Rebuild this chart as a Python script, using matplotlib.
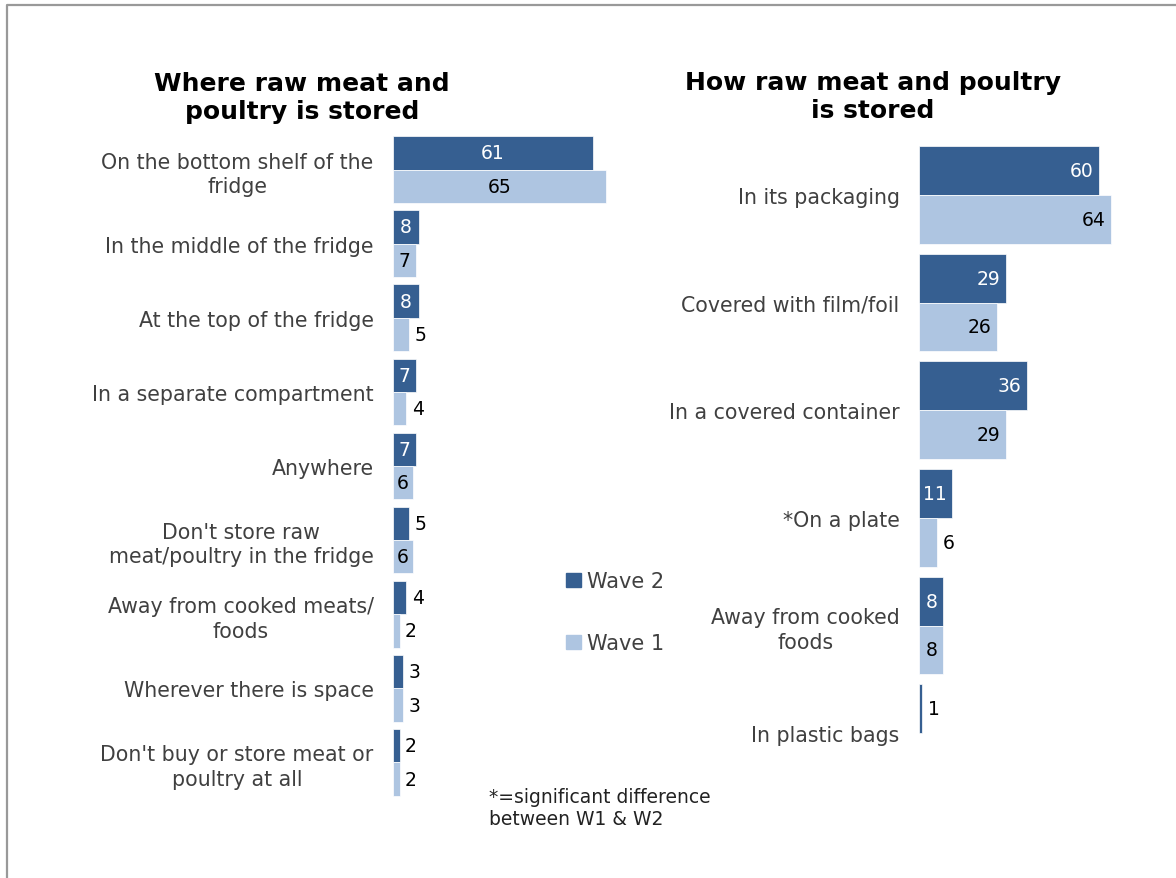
import numpy as np
import matplotlib.pyplot as plt
from matplotlib.patches import Patch
from matplotlib.lines import Line2D

# where raw meat is kept in the fridge (%)
where_cats = ["On the bottom shelf of the\nfridge",
              "In the middle of the fridge",
              "At the top of the fridge",
              "In a separate compartment",
              "Anywhere",
              "Don't store raw\nmeat/poultry in the fridge",
              "Away from cooked meats/\nfoods",
              "Wherever there is space",
              "Don't buy or store meat or\npoultry at all"]
where_w2 = [61, 8, 8, 7, 7, 5, 4, 3, 2]
where_w1 = [65, 7, 5, 4, 6, 6, 2, 3, 2]

# how raw meat is kept (%)
how_cats = ["In its packaging",
            "Covered with film/foil",
            "In a covered container",
            "*On a plate",
            "Away from cooked\nfoods",
            "In plastic bags"]
how_w2 = [60, 29, 36, 11, 8, 1]
how_w1 = [64, 26, 29, 6, 8, 0]

DARK = "#365f91"
LIGHT = "#aec5e1"
GREY = "#404040"

W, H = 1176, 879
fig = plt.figure(figsize=(W / 100, H / 100), dpi=100)


def px_axes(x0, y_top, x1, y_bot):
    return fig.add_axes([x0 / W, 1 - y_bot / H, (x1 - x0) / W, (y_bot - y_top) / H])


def draw_panel(ax, cats, w2, w1, bh, inside_min, mode):
    y = np.arange(len(cats))
    b2 = ax.barh(y - bh / 2, w2, height=bh, color=DARK, edgecolor="white", linewidth=0.5)
    b1 = ax.barh(y + bh / 2, w1, height=bh, color=LIGHT, edgecolor="white", linewidth=0.5)
    ax.set_ylim(len(cats) - 0.5, -0.5)
    ax.set_yticks(y)
    ax.set_yticklabels(cats, fontsize=14.8, color=GREY, multialignment="center", linespacing=1.27)
    ax.tick_params(axis="y", length=0, pad=14)
    ax.set_xticks([])
    for s in ax.spines.values():
        s.set_visible(False)

    for bars, vals, dark in ((b2, w2, True), (b1, w1, False)):
        for bar, v in zip(bars, vals):
            if v == 0:
                continue
            yc = bar.get_y() + bar.get_height() / 2
            if v >= inside_min:
                col = "white" if dark and v >= 7 else "black"
                if mode == "center":
                    ax.annotate(str(v), (v / 2, yc), ha="center", va="center",
                                fontsize=13.5, color=col)
                else:
                    ax.annotate(str(v), (v, yc), xytext=(-4, 0), textcoords="offset points",
                                ha="right", va="center", fontsize=13.5, color=col)
            else:
                ax.annotate(str(v), (v, yc), xytext=(4, 0), textcoords="offset points",
                            ha="left", va="center", fontsize=13.5, color="black")


ax1 = px_axes(393, 133.5, 721, 800.5)
ax1.set_xlim(0, 100)
draw_panel(ax1, where_cats, where_w2, where_w1, 0.45, 6, "center")

ax2 = px_axes(919, 142, 1174, 788)
ax2.set_xlim(0, 85)
draw_panel(ax2, how_cats, how_w2, how_w1, 0.455, 8, "end")

fig.text(302 / W, 1 - 98 / H, "Where raw meat and\npoultry is stored", ha="center", va="center",
         fontsize=18, fontweight="bold", color="black", linespacing=1.2)
fig.text(873 / W, 1 - 97 / H, "How raw meat and poultry\nis stored", ha="center", va="center",
         fontsize=18, fontweight="bold", color="black", linespacing=1.2)

handles = [Patch(color=DARK, label="Wave 2"), Patch(color=LIGHT, label="Wave 1")]
fig.legend(handles=handles, loc="upper left", bbox_to_anchor=(556 / W, 1 - 562 / H),
           frameon=False, fontsize=15, labelcolor=GREY, handlelength=0.7, handleheight=0.7,
           handletextpad=0.3, labelspacing=2.0, borderpad=0)

fig.text(489 / W, 1 - 809 / H, "*=significant difference\nbetween W1 & W2", ha="left", va="center",
         fontsize=13.5, color="#222222", linespacing=1.2)

# grey frame on the left and top edges
fig.add_artist(Line2D([7 / W, 7 / W, 1.0], [0.0, 1 - 6 / H, 1 - 6 / H],
                      transform=fig.transFigure, color="#999999", linewidth=1.6))

fig.savefig("out.png", dpi=100)
